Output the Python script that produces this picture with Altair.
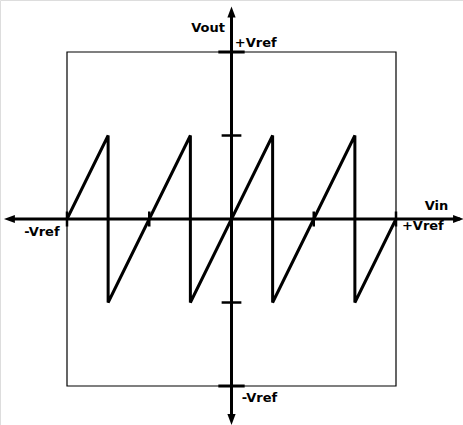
import altair as alt
import pandas as pd

# Sawtooth transfer curve (Vin, Vout in units of Vref)
saw_vin = [-1.0, -0.75, -0.75, -0.25, -0.25, 0.25, 0.25, 0.75, 0.75, 1.0]
saw_vout = [0.0, 0.5, -0.5, 0.5, -0.5, 0.5, -0.5, 0.5, -0.5, 0.0]

# Tick positions along each axis
vin_ticks = [-1.0, -0.5, 0.5, 1.0]
vout_ticks = [-0.5, 0.5]
vout_edge_ticks = [-1.0, 1.0]

# Axis labels
label_text = ["Vout", "+Vref", "-Vref", "Vin", "+Vref", "-Vref"]
label_x = [-0.04, 0.02, 0.063, 1.175, 1.036, -1.045]
label_y = [1.118, 1.03, -1.097, 0.054, -0.063, -0.104]
label_align = ["right", "left", "left", "left", "left", "right"]

X_DOM = [-1.4073, 1.4073]
Y_DOM = [-1.2335, 1.3114]
xs = alt.Scale(domain=X_DOM, nice=False, zero=False)
ys = alt.Scale(domain=Y_DOM, nice=False, zero=False)

def X(field="x"):
    return alt.X(field, type="quantitative", scale=xs, axis=None)

def Y(field="y"):
    return alt.Y(field, type="quantitative", scale=ys, axis=None)

# Full-scale box
box = alt.Chart(pd.DataFrame({"x": [-1.0], "x2": [1.0], "y": [-1.0], "y2": [1.0]})).mark_rect(
    fill=None, stroke="black", strokeWidth=1.2
).encode(x=X(), x2="x2", y=Y(), y2="y2")

# Main axes
axes_df = pd.DataFrame({
    "x": [-1.33, 0.0], "x2": [1.39, 0.0],
    "y": [0.0, -1.20], "y2": [0.0, 1.235],
})
axes = alt.Chart(axes_df).mark_rule(color="black", strokeWidth=3).encode(
    x=X(), x2="x2", y=Y(), y2="y2"
)

# Arrowheads (slender triangles)
arrow_df = pd.DataFrame({
    "x": [-1.35, 1.38, 0.0, 0.0],
    "y": [0.0, 0.0, 1.24, -1.20],
    "s": [
        "M-1,0L1,-0.75L1,0.75Z",
        "M1,0L-1,-0.75L-1,0.75Z",
        "M0,-1L-0.75,1L0.75,1Z",
        "M0,1L-0.75,-1L0.75,-1Z",
    ],
})
arrows = alt.Chart(arrow_df).mark_point(
    filled=True, color="black", size=120, opacity=1
).encode(
    x=X(), y=Y(),
    shape=alt.Shape("s:N", scale=None, legend=None),
)

# Ticks
vin_tick_df = pd.DataFrame({"x": vin_ticks, "y": [-0.045] * len(vin_ticks), "y2": [0.045] * len(vin_ticks)})
vin_tick = alt.Chart(vin_tick_df).mark_rule(color="black", strokeWidth=2.5).encode(
    x=X(), y=Y(), y2="y2"
)
vout_tick_df = pd.DataFrame({"y": vout_ticks, "x": [-0.06] * 2, "x2": [0.06] * 2})
vout_tick = alt.Chart(vout_tick_df).mark_rule(color="black", strokeWidth=2.5).encode(
    x=X(), x2="x2", y=Y()
)
edge_tick_df = pd.DataFrame({"y": vout_edge_ticks, "x": [-0.08] * 2, "x2": [0.08] * 2})
edge_tick = alt.Chart(edge_tick_df).mark_rule(color="black", strokeWidth=3).encode(
    x=X(), x2="x2", y=Y()
)

# Sawtooth
saw_df = pd.DataFrame({"x": saw_vin, "y": saw_vout, "o": list(range(len(saw_vin)))})
saw = alt.Chart(saw_df).mark_line(color="black", strokeWidth=3, strokeJoin="miter").encode(
    x=X(), y=Y(), order="o:Q"
)

# Labels
lab_df = pd.DataFrame({"t": label_text, "x": label_x, "y": label_y, "a": label_align})
text_style = dict(baseline="alphabetic", font="DejaVu Sans", fontWeight="bold", fontSize=13, color="black")
labels_left = alt.Chart(lab_df[lab_df.a == "left"]).mark_text(align="left", **text_style).encode(
    x=X(), y=Y(), text="t:N"
)
labels_right = alt.Chart(lab_df[lab_df.a == "right"]).mark_text(align="right", **text_style).encode(
    x=X(), y=Y(), text="t:N"
)

chart = alt.layer(
    box, axes, arrows, vin_tick, vout_tick, edge_tick, saw, labels_left, labels_right
).properties(
    width=463, height=425, autosize=alt.AutoSizeParams(type="none"), padding=0
).configure_view(stroke=None).configure(background="white")

chart.save("out.html", embed_options={"renderer": "svg", "actions": False})
